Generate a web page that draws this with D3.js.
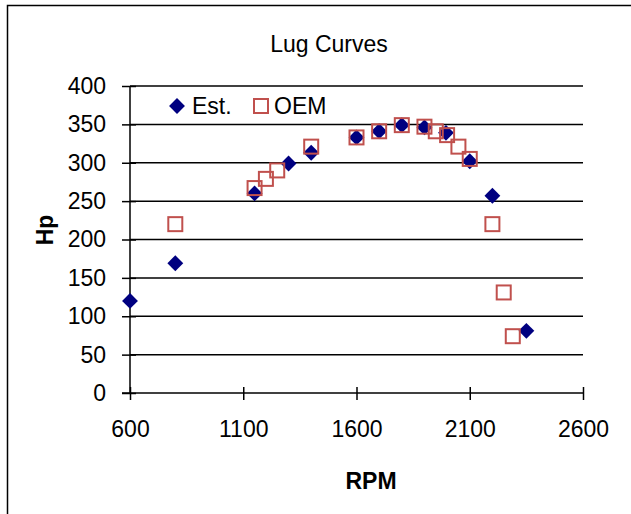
<!DOCTYPE html>
<html>
<head>
<meta charset="utf-8">
<script src="https://cdn.jsdelivr.net/npm/d3@7"></script>
<style>
  html, body { margin: 0; padding: 0; background: #fff; }
  svg { display: block; font-family: "Liberation Sans", Arial, sans-serif; }
</style>
</head>
<body>
<svg id="chart" width="631" height="514"></svg>
<script>
// ---- data ----
const title = "Lug Curves";
const xLabel = "RPM";
const yLabel = "Hp";
const estRpm = [600, 800, 1150, 1300, 1400, 1600, 1700, 1800, 1900, 1995, 2100, 2200, 2350];
const estHp  = [120, 169, 260, 299, 313, 333, 341, 349, 346, 339, 302, 257, 81];
const oemRpm = [800, 1150, 1200, 1250, 1400, 1600, 1700, 1800, 1900, 1950, 2000, 2050, 2100, 2200, 2250, 2290];
const oemHp  = [220, 267, 279, 290, 321, 333, 341, 349, 347, 341, 336, 321, 305, 220, 131, 74];
const xTicks = [600, 1100, 1600, 2100, 2600];
const yTicks = [0, 50, 100, 150, 200, 250, 300, 350, 400];
const seriesNames = ["Est.", "OEM"];

const est = estRpm.map((r, i) => ({ x: r, y: estHp[i] }));
const oem = oemRpm.map((r, i) => ({ x: r, y: oemHp[i] }));

// ---- layout ----
const svg = d3.select("#chart");
const pL = 130, pR = 583, pT = 86, pB = 393;
const fs = 23;
const navy = "#000080", red = "#C0504D";

const x = d3.scaleLinear().domain([600, 2600]).range([pL, pR]);
const y = d3.scaleLinear().domain([0, 400]).range([pB, pT]);

// chart-area border (extends beyond the picture on right/bottom)
svg.append("rect").attr("x", 7.5).attr("y", 5.5).attr("width", 700).attr("height", 600)
  .attr("fill", "#fff").attr("stroke", "#000").attr("stroke-width", 1.5);

// gridlines
svg.append("g").selectAll("line").data(yTicks.filter(d => d > 0)).join("line")
  .attr("x1", pL).attr("x2", pR)
  .attr("y1", d => y(d)).attr("y2", d => y(d))
  .attr("stroke", "#000").attr("stroke-width", 1.5);

// y axis
const gy = svg.append("g").attr("transform", `translate(${pL},0)`)
  .call(d3.axisLeft(y).tickValues(yTicks).tickSize(8).tickPadding(16));
gy.select(".domain").attr("stroke", "#000").attr("stroke-width", 1.5).attr("d", `M0,${pT}V${pB}`);
gy.selectAll(".tick line").attr("x1", -8).attr("x2", 6).attr("stroke", "#000").attr("stroke-width", 1.5);
gy.selectAll(".tick text").attr("x", -24).attr("font-size", fs).attr("font-family", "Liberation Sans, Arial, sans-serif").attr("fill", "#000");

// x axis
const gx = svg.append("g").attr("transform", `translate(0,${pB})`)
  .call(d3.axisBottom(x).tickValues(xTicks).tickSize(7).tickPadding(20).tickFormat(d3.format("d")));
gx.select(".domain").attr("stroke", "#000").attr("stroke-width", 1.5).attr("d", `M${pL - 8},0H${pR}`);
gx.selectAll(".tick line").attr("y1", -6).attr("y2", 7).attr("stroke", "#000").attr("stroke-width", 1.5);
gx.selectAll(".tick text").attr("y", 28).attr("font-size", fs).attr("font-family", "Liberation Sans, Arial, sans-serif").attr("fill", "#000");

// title & axis labels
svg.append("text").attr("x", 329).attr("y", 52).attr("text-anchor", "middle")
  .attr("font-size", fs).text(title);
svg.append("text").attr("x", 371).attr("y", 489).attr("text-anchor", "middle")
  .attr("font-size", fs).attr("font-weight", "bold").text(xLabel);
svg.append("text").attr("transform", "translate(53,230) rotate(-90)").attr("text-anchor", "middle")
  .attr("font-size", fs).attr("font-weight", "bold").text(yLabel);

// markers
const diamond = d3.symbol().type(d3.symbolDiamond2).size(160);
svg.append("g").selectAll("path").data(est).join("path")
  .attr("d", diamond)
  .attr("transform", d => `translate(${x(d.x)},${y(d.y)})`)
  .attr("fill", navy);

const sq = 14;
svg.append("g").selectAll("rect").data(oem).join("rect")
  .attr("x", d => x(d.x) - sq / 2).attr("y", d => y(d.y) - sq / 2)
  .attr("width", sq).attr("height", sq)
  .attr("fill", "none").attr("stroke", red).attr("stroke-width", 2);

// legend
const lg = svg.append("g");
lg.append("path").attr("d", diamond).attr("transform", "translate(177,106)").attr("fill", navy);
lg.append("text").attr("x", 192).attr("y", 114).attr("font-size", fs).text(seriesNames[0]);
lg.append("rect").attr("x", 261 - sq / 2).attr("y", 106 - sq / 2).attr("width", sq).attr("height", sq)
  .attr("fill", "none").attr("stroke", red).attr("stroke-width", 2);
lg.append("text").attr("x", 274).attr("y", 114).attr("font-size", fs).text(seriesNames[1]);
</script>
</body>
</html>
